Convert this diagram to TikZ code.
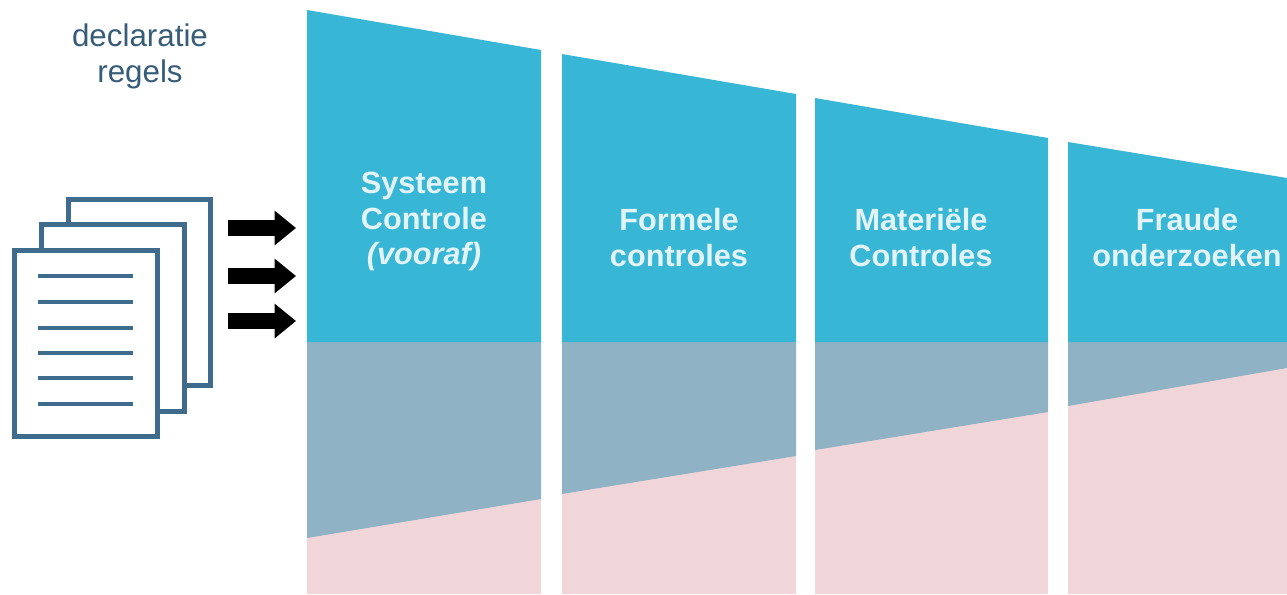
\documentclass[tikz,border=0pt]{standalone}
\usepackage{fontspec}
\setmainfont{Liberation Sans}
\usetikzlibrary{positioning,arrows.meta}
\definecolor{col_blue}{HTML}{38B6D5}
\definecolor{col_grey}{HTML}{8FB3C5}
\definecolor{col_pink}{HTML}{F1D6D9}
\definecolor{col_ink}{HTML}{3F6C8C}
\definecolor{col_text}{HTML}{E2F4F8}
\tikzset{
    treenode/.style={align=center, inner sep=0pt},
    % Column titles
    node_col/.style = {treenode, text=col_text, font=\fontsize{23}{26.5}\selectfont\bfseries},
    % Caption above the sheets
    node_cap/.style = {treenode, text=col_ink!85!black, font=\fontsize{23.5}{27}\selectfont},
    % Sheets of paper
    sheet/.style = {draw=col_ink, line width=3.75pt, fill=white},
    sheet_line/.style = {draw=col_ink, line width=3.5pt},
    block_arrow/.style = {draw=black, line width=12pt, -{Triangle[length=16pt,width=25pt]}}
}

\begin{document}
\begin{tikzpicture}[x=0.75pt,y=-0.75pt]
        \useasboundingbox (0,0) rectangle (1287,594);

        % columns: left, right, top left, top right, bottom left, bottom right
        \foreach \xl/\xr/\tl/\tr/\bl/\br in {307/541/10/50/538/499, 562/796/54/94/494/456, 815/1048/98/138/450/412, 1068/1287/142/178/406/368}{
            \fill[col_pink] (\xl,342) rectangle (\xr,594);
            \fill[col_grey] (\xl,342) -- (\xr,342) -- (\xr,\br) -- (\xl,\bl) -- cycle;
            \fill[col_blue] (\xl,\tl) -- (\xr,\tr) -- (\xr,342) -- (\xl,342) -- cycle;
        }

        \node[node_col] (col_sys) at (424,221.5) {Systeem\\Controle\\{\itshape (vooraf)}};
        \node[node_col] (col_for) at (679,237.5) {Formele\\controles};
        \node[node_col] (col_mat) at (921,237.5) {Materiële\\Controles};
        \node[node_col] (col_fra) at (1187,237.5) {Fraude\\onderzoeken};

        \node[node_cap] (cap_decl) at (140,56) {declaratie\\regels};

        % sheets
        \draw[sheet] (68.5,199.5) rectangle (210.5,385.5);
        \draw[sheet] (41.5,224.5) rectangle (184.5,411);
        \draw[sheet] (14.5,250.5) rectangle (157,436);
        \foreach \ly in {276,302,328,353,378,404}{
            \draw[sheet_line] (38,\ly) -- (133,\ly);
        }

        % arrows
        \foreach \i/\ay in {1/228,2/276,3/321}{
            \coordinate (arr_from\i) at (228,\ay);
            \coordinate (arr_to\i) at (296,\ay);
            \draw[block_arrow] (arr_from\i) -- (arr_to\i);
        }
    \end{tikzpicture}
\end{document}
